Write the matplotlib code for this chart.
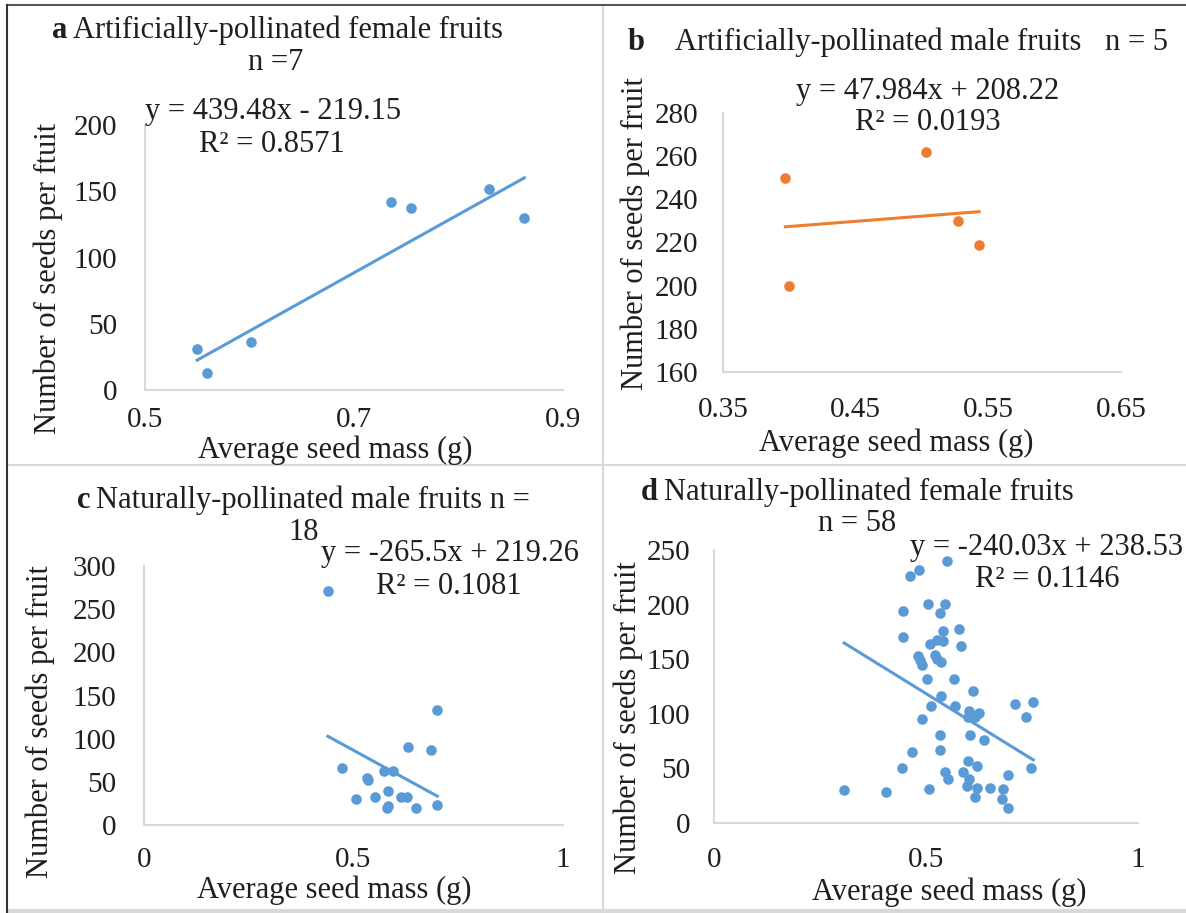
import matplotlib.pyplot as plt
from matplotlib.lines import Line2D

W, H = 1186, 913

# a: artificially-pollinated female fruits
a_mass = [0.550, 0.559, 0.601, 0.735, 0.755, 0.829, 0.863]
a_seeds = [31, 13, 36, 142, 137, 152, 130]
a_fit = (439.48, -219.15)

# b: artificially-pollinated male fruits
b_mass = [0.397, 0.400, 0.503, 0.527, 0.543]
b_seeds = [250, 200, 262, 230, 219]
b_fit = (47.984, 208.22)

# c: naturally-pollinated male fruits
c_mass = [0.439, 0.700, 0.629, 0.684, 0.472, 0.533, 0.535, 0.572, 0.595,
          0.505, 0.551, 0.583, 0.614, 0.627, 0.579, 0.582, 0.650, 0.700]
c_seeds = [271, 133, 90, 87, 66, 54, 52, 62, 62,
           30, 33, 39, 33, 33, 20, 22, 20, 23]
c_fit = (-265.5, 219.26)

# d: naturally-pollinated female fruits
d_mass = [0.307, 0.405, 0.507, 0.444, 0.468, 0.490, 0.511, 0.502,
          0.482, 0.486, 0.490, 0.521, 0.527, 0.535,
          0.445, 0.445, 0.462, 0.484, 0.549, 0.505, 0.545, 0.533,
          0.539, 0.578, 0.509, 0.525, 0.541, 0.582, 0.566, 0.610,
          0.535, 0.568, 0.602, 0.626, 0.600, 0.616, 0.533, 0.604,
          0.637, 0.533, 0.600, 0.620, 0.588, 0.545, 0.551, 0.602,
          0.597, 0.620, 0.652, 0.616, 0.682, 0.679, 0.694, 0.693,
          0.748, 0.710, 0.753, 0.736]
d_seeds = [30, 28, 31, 50, 65, 95, 107, 132,
           153, 149, 145, 154, 150, 147,
           170, 194, 226, 232, 240, 201, 201, 192,
           176, 178, 164, 168, 167, 162, 132, 121,
           116, 107, 103, 101, 97, 97, 81, 81,
           76, 67, 57, 52, 47, 47, 40, 40,
           34, 32, 32, 24, 31, 22, 14, 44,
           50, 109, 111, 97]
d_fit = (-240.03, 238.53)

BLUE = '#5b9bd5'
ORANGE = '#ed7d31'
TXT = '#1f1f1f'
GRID = '#d9d9d9'

plt.rcParams['font.family'] = ['Liberation Serif', 'DejaVu Serif']
FS = 22
TICK_FS = 21

fig = plt.figure(figsize=(W / 100, H / 100), dpi=100)


def px_axes(x0, y0, x1, y1):
    return fig.add_axes([x0 / W, 1 - y1 / H, (x1 - x0) / W, (y1 - y0) / H])


def ftext(x, y, s, **kw):
    kw.setdefault('va', 'center')
    kw.setdefault('ha', 'center')
    kw.setdefault('fontsize', FS)
    kw.setdefault('color', TXT)
    fig.text(x / W, 1 - y / H, s, **kw)


def panel(box, mass, seeds, fit, color, xlim, xticks, ylim, yticks, ypad, xpad):
    ax = px_axes(*box)
    ax.scatter(mass, seeds, s=58, color=color, zorder=3, linewidths=0)
    lo, hi = min(mass), max(mass)
    ax.plot([lo, hi], [fit[0] * lo + fit[1], fit[0] * hi + fit[1]],
            color=color, lw=2.2, zorder=2)
    ax.set_xlim(*xlim)
    ax.set_ylim(*ylim)
    ax.set_xticks(xticks)
    ax.set_yticks(yticks)
    ax.set_xticklabels([('%g' % v) for v in xticks])
    for s in ('top', 'right'):
        ax.spines[s].set_visible(False)
    for s in ('left', 'bottom'):
        ax.spines[s].set_color(GRID)
        ax.spines[s].set_linewidth(1.5)
    ax.tick_params(axis='y', length=0, pad=ypad, labelsize=TICK_FS, colors=TXT)
    ax.tick_params(axis='x', length=0, pad=xpad, labelsize=TICK_FS, colors=TXT)
    ax.patch.set_alpha(0)
    return ax


panel((145, 125, 563, 390), a_mass, a_seeds, a_fit, BLUE,
      (0.5, 0.9), [0.5, 0.7, 0.9], (0, 200), range(0, 201, 50), 20, 12)
panel((723, 113, 1121, 372), b_mass, b_seeds, b_fit, ORANGE,
      (0.35, 0.65), [0.35, 0.45, 0.55, 0.65], (160, 280), range(160, 281, 20), 18, 18)
panel((144, 566, 563, 825), c_mass, c_seeds, c_fit, BLUE,
      (0, 1), [0, 0.5, 1], (0, 300), range(0, 301, 50), 20, 16)
panel((714, 550, 1138, 823), d_mass, d_seeds, d_fit, BLUE,
      (0, 1), [0, 0.5, 1], (0, 250), range(0, 251, 50), 17, 17)

# titles
ftext(52, 30, 'a', ha='left', fontweight='bold')
ftext(73, 30, 'Artificially-pollinated female fruits', ha='left')
ftext(276, 62, 'n =7')
ftext(628, 42, 'b', ha='left', fontweight='bold')
ftext(675, 42, 'Artificially-pollinated male fruits', ha='left')
ftext(1168, 42, 'n = 5', ha='right')
ftext(77, 500, 'c', ha='left', fontweight='bold')
ftext(96, 500, 'Naturally-pollinated male fruits n =', ha='left')
ftext(304, 532, '18')
ftext(641, 492, 'd', ha='left', fontweight='bold')
ftext(664, 492, 'Naturally-pollinated female fruits', ha='left')
ftext(857, 523, 'n = 58')

# trend equations
ftext(273, 112, 'y = 439.48x - 219.15')
ftext(272, 144, 'R\u00b2 = 0.8571')
ftext(928, 92, 'y = 47.984x + 208.22')
ftext(928, 123, 'R\u00b2 = 0.0193')
ftext(450, 554, 'y = -265.5x + 219.26')
ftext(449, 586, 'R\u00b2 = 0.1081')
ftext(1047, 548, 'y = -240.03x + 238.53')
ftext(1047, 579, 'R\u00b2 = 0.1146')

# axis titles
ftext(48, 278, 'Number of seeds per ftuit', rotation=90)
ftext(335, 450, 'Average seed mass (g)')
ftext(635, 234, 'Number of seeds per fruit', rotation=90)
ftext(896, 443, 'Average seed mass (g)')
ftext(40, 722, 'Number of seeds per fruit', rotation=90)
ftext(334, 890, 'Average seed mass (g)')
ftext(628, 718, 'Number of seeds per fruit', rotation=90)
ftext(949, 892, 'Average seed mass (g)')


# panel frames
def fline(xs, ys, color, lw):
    fig.add_artist(Line2D([x / W for x in xs], [1 - y / H for y in ys],
                          color=color, lw=lw, transform=fig.transFigure))


fline([603, 603], [6, 910], GRID, 1.5)
fline([8, 1186], [465, 465], GRID, 1.5)
fline([8, 1186], [911, 911], GRID, 3)
fline([7, 1186], [5, 5], '#555555', 1.5)
fline([7, 7], [5, 913], '#333333', 1.5)

fig.savefig('out.png', dpi=100)
